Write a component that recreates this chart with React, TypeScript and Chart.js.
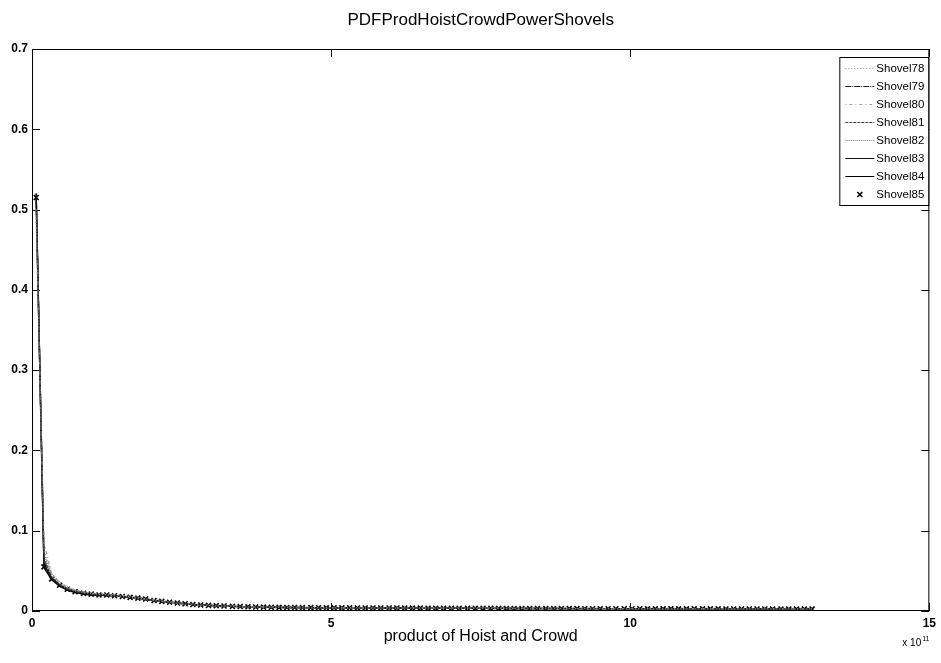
import React, { useEffect, useRef } from "react";
import { Chart, registerables } from "chart.js";

Chart.register(...registerables);

const FONT = "'Liberation Sans', Arial, sans-serif";

const TITLE = "PDFProdHoistCrowdPowerShovels";
const X_LABEL = "product of Hoist and Crowd";
const X_EXPONENT = "11";
const X_TICKS = [0, 5, 10, 15];
const Y_TICKS = [0, 0.1, 0.2, 0.3, 0.4, 0.5, 0.6, 0.7];
const SERIES_NAMES = ["Shovel78", "Shovel79", "Shovel80", "Shovel81", "Shovel82", "Shovel83", "Shovel84", "Shovel85"];

// bin centres, in units of 1e11
const BIN_X = [
  0.07, 0.2, 0.33, 0.46, 0.59, 0.72, 0.86, 0.99, 1.12, 1.25,
  1.38, 1.51, 1.64, 1.77, 1.9, 2.04, 2.17, 2.3, 2.43, 2.56,
  2.69, 2.82, 2.95, 3.08, 3.21, 3.35, 3.48, 3.61, 3.74, 3.87,
  4.0, 4.13, 4.26, 4.39, 4.52, 4.66, 4.79, 4.92, 5.05, 5.18,
  5.31, 5.44, 5.57, 5.7, 5.83, 5.97, 6.1, 6.23, 6.36, 6.49,
  6.62, 6.75, 6.88, 7.01, 7.14, 7.28, 7.41, 7.54, 7.67, 7.8,
  7.93, 8.06, 8.19, 8.32, 8.45, 8.59, 8.72, 8.85, 8.98, 9.11,
  9.24, 9.37, 9.5, 9.63, 9.76, 9.9, 10.03, 10.16, 10.29, 10.42,
  10.55, 10.68, 10.81, 10.94, 11.07, 11.21, 11.34, 11.47, 11.6, 11.73,
  11.86, 11.99, 12.12, 12.25, 12.38, 12.52, 12.65, 12.78, 12.91, 13.04,
];

const SHOVEL85 = [
  0.515, 0.055, 0.04, 0.032, 0.027, 0.024, 0.022, 0.021, 0.02, 0.02,
  0.019, 0.018, 0.017, 0.016, 0.015, 0.013, 0.012, 0.011, 0.01, 0.009,
  0.008, 0.0075, 0.007, 0.0066, 0.0062, 0.0058, 0.0055, 0.0052, 0.005, 0.0048,
  0.0046, 0.0045, 0.0044, 0.0043, 0.0042, 0.0042, 0.0041, 0.004, 0.004, 0.0039,
  0.0039, 0.0038, 0.0038, 0.0038, 0.0037, 0.0037, 0.0037, 0.0036, 0.0036, 0.0036,
  0.0035, 0.0035, 0.0035, 0.0034, 0.0034, 0.0034, 0.0033, 0.0033, 0.0033, 0.0032,
  0.0032, 0.0032, 0.0031, 0.0031, 0.0031, 0.0031, 0.003, 0.003, 0.003, 0.003,
  0.0029, 0.0029, 0.0029, 0.0029, 0.0028, 0.0028, 0.0028, 0.0028, 0.0027, 0.0027,
  0.0027, 0.0027, 0.0027, 0.0026, 0.0026, 0.0026, 0.0026, 0.0026, 0.0025, 0.0025,
  0.0025, 0.0025, 0.0025, 0.0025, 0.0024, 0.0024, 0.0024, 0.0024, 0.0024, 0.0024,
];

// x positions for the line series (units of 1e11)
const LINE_X = [
  0.07, 0.2, 0.33, 0.46, 0.59, 0.72, 0.86, 0.99, 1.12, 1.25,
  1.38, 1.51, 1.64, 1.77, 1.9, 2.04, 2.17, 2.3, 2.43, 2.56,
  2.69, 2.82, 2.95, 3.08, 3.21, 3.35, 3.61, 3.87, 4.26, 4.66,
  5.31, 6.1, 7.14, 8.32, 9.63, 10.94, 12.25, 13.04,
];

const SHOVEL78 = [
  0.5, 0.075, 0.044, 0.034, 0.028, 0.025, 0.023, 0.022, 0.021, 0.02,
  0.019, 0.018, 0.017, 0.016, 0.014, 0.013, 0.012, 0.011, 0.0095, 0.0085,
  0.0078, 0.0072, 0.0068, 0.0064, 0.006, 0.0057, 0.0052, 0.0048, 0.0044, 0.0042,
  0.004, 0.0037, 0.0034, 0.0031, 0.0029, 0.0027, 0.0026, 0.0025,
];
const SHOVEL79 = [
  0.52, 0.06, 0.041, 0.033, 0.027, 0.024, 0.022, 0.021, 0.02, 0.02,
  0.019, 0.018, 0.017, 0.016, 0.015, 0.013, 0.012, 0.011, 0.01, 0.009,
  0.008, 0.0075, 0.007, 0.0066, 0.0062, 0.0058, 0.0052, 0.0048, 0.0044, 0.0042,
  0.004, 0.0037, 0.0034, 0.0031, 0.0029, 0.0027, 0.0026, 0.0025,
];
const SHOVEL80 = [
  0.49, 0.085, 0.046, 0.035, 0.029, 0.026, 0.024, 0.022, 0.021, 0.021,
  0.02, 0.019, 0.018, 0.016, 0.015, 0.014, 0.012, 0.011, 0.01, 0.009,
  0.0082, 0.0076, 0.0071, 0.0067, 0.0063, 0.0059, 0.0053, 0.0049, 0.0045, 0.0043,
  0.0041, 0.0038, 0.0035, 0.0032, 0.003, 0.0028, 0.0026, 0.0025,
];
const SHOVEL81 = [
  0.51, 0.065, 0.042, 0.033, 0.028, 0.025, 0.023, 0.021, 0.02, 0.02,
  0.019, 0.018, 0.017, 0.016, 0.015, 0.013, 0.012, 0.011, 0.01, 0.009,
  0.008, 0.0075, 0.007, 0.0066, 0.0062, 0.0058, 0.0052, 0.0048, 0.0044, 0.0042,
  0.004, 0.0037, 0.0034, 0.0031, 0.0029, 0.0027, 0.0026, 0.0025,
];
const SHOVEL82 = [
  0.5, 0.07, 0.046, 0.036, 0.03, 0.026, 0.023, 0.022, 0.021, 0.02,
  0.02, 0.019, 0.018, 0.017, 0.015, 0.014, 0.013, 0.011, 0.01, 0.0092,
  0.0084, 0.0077, 0.0072, 0.0067, 0.0063, 0.0059, 0.0053, 0.0049, 0.0045, 0.0043,
  0.0041, 0.0038, 0.0035, 0.0032, 0.003, 0.0028, 0.0026, 0.0025,
];
const SHOVEL83 = [
  0.52, 0.058, 0.04, 0.032, 0.027, 0.024, 0.022, 0.021, 0.02, 0.02,
  0.019, 0.018, 0.017, 0.016, 0.015, 0.013, 0.012, 0.011, 0.01, 0.009,
  0.008, 0.0075, 0.007, 0.0066, 0.0062, 0.0058, 0.0052, 0.0048, 0.0044, 0.0042,
  0.004, 0.0037, 0.0034, 0.0031, 0.0029, 0.0027, 0.0026, 0.0025,
];
const SHOVEL84 = [
  0.515, 0.054, 0.039, 0.031, 0.026, 0.023, 0.021, 0.02, 0.02, 0.019,
  0.019, 0.018, 0.017, 0.016, 0.014, 0.013, 0.012, 0.011, 0.0098, 0.0088,
  0.0079, 0.0074, 0.0069, 0.0065, 0.0061, 0.0057, 0.0051, 0.0047, 0.0043, 0.0041,
  0.0039, 0.0036, 0.0033, 0.0031, 0.0029, 0.0027, 0.0026, 0.0025,
];

const LINE_SERIES = [SHOVEL78, SHOVEL79, SHOVEL80, SHOVEL81, SHOVEL82, SHOVEL83, SHOVEL84];
const LINE_STYLES = [
  { color: "#8a8a8a", dash: [1, 2] },
  { color: "#1a1a1a", dash: [6, 1, 1, 1] },
  { color: "#a0a0a0", dash: [1, 3, 3, 3] },
  { color: "#404040", dash: [3, 1] },
  { color: "#777777", dash: [1, 1] },
  { color: "#111111", dash: [] },
  { color: "#000000", dash: [] },
];

const decorPlugin = {
  id: "decor",
  beforeDatasetsDraw(chart: any) {
    const { ctx, chartArea: a, scales } = chart;
    const xs = scales.x;
    const ys = scales.y;
    const tl = 8;
    ctx.save();
    ctx.strokeStyle = "#000";
    ctx.lineWidth = 1;
    ctx.strokeRect(a.left + 0.5, a.top + 0.5, a.right - a.left - 1, a.bottom - a.top - 1);
    ctx.beginPath();
    X_TICKS.forEach((v) => {
      const px = Math.round(xs.getPixelForValue(v)) + 0.5;
      ctx.moveTo(px, a.bottom);
      ctx.lineTo(px, a.bottom - tl);
      ctx.moveTo(px, a.top);
      ctx.lineTo(px, a.top + tl);
    });
    Y_TICKS.forEach((v) => {
      const py = Math.round(ys.getPixelForValue(v)) + 0.5;
      ctx.moveTo(a.left, py);
      ctx.lineTo(a.left + tl, py);
      ctx.moveTo(a.right, py);
      ctx.lineTo(a.right - tl, py);
    });
    ctx.stroke();
    // exponent label
    ctx.fillStyle = "#000";
    ctx.textBaseline = "alphabetic";
    ctx.textAlign = "left";
    ctx.font = `10px ${FONT}`;
    const ex = a.right - 27;
    const ey = a.bottom + 35;
    ctx.fillText("x 10", ex, ey);
    const w = ctx.measureText("x 10").width;
    ctx.font = `7px ${FONT}`;
    ctx.fillText(X_EXPONENT, ex + w + 1, ey - 5);
    ctx.restore();
  },
  afterDatasetsDraw(chart: any) {
    const { ctx, chartArea: a } = chart;
    const ds = chart.data.datasets;
    const boxW = 89;
    const rowH = 18;
    const right = a.right - 1;
    const left = right - boxW;
    const top = a.top + 8;
    const boxH = rowH * ds.length + 4;
    ctx.save();
    ctx.fillStyle = "#fff";
    ctx.fillRect(left, top, boxW, boxH);
    ctx.strokeStyle = "#000";
    ctx.lineWidth = 1;
    ctx.strokeRect(left + 0.5, top + 0.5, boxW, boxH);
    ds.forEach((d: any, i: number) => {
      const y = Math.round(top + 11 + rowH * i) + 0.5;
      const x0 = left + 6;
      const x1 = left + 35;
      if (d.showLine === false) {
        const cx = (x0 + x1) / 2;
        ctx.strokeStyle = "#000";
        ctx.lineWidth = 1.5;
        ctx.setLineDash([]);
        ctx.beginPath();
        ctx.moveTo(cx - 2.5, y - 2.5);
        ctx.lineTo(cx + 2.5, y + 2.5);
        ctx.moveTo(cx + 2.5, y - 2.5);
        ctx.lineTo(cx - 2.5, y + 2.5);
        ctx.stroke();
      } else {
        ctx.strokeStyle = d.borderColor;
        ctx.lineWidth = 1;
        ctx.setLineDash(d.borderDash || []);
        ctx.beginPath();
        ctx.moveTo(x0, y);
        ctx.lineTo(x1, y);
        ctx.stroke();
      }
      ctx.setLineDash([]);
      ctx.fillStyle = "#000";
      ctx.font = `11.5px ${FONT}`;
      ctx.textAlign = "left";
      ctx.textBaseline = "middle";
      ctx.fillText(d.label, x1 + 2, y);
    });
    ctx.restore();
  },
};

export default function App() {
  const ref = useRef<HTMLCanvasElement | null>(null);

  useEffect(() => {
    document.body.style.margin = "0";
    const canvas = ref.current;
    if (!canvas) return;

    const lineDatasets = LINE_SERIES.map((vals, i) => ({
      label: SERIES_NAMES[i],
      data: vals.map((v, j) => ({ x: LINE_X[j], y: v })),
      showLine: true,
      borderColor: LINE_STYLES[i].color,
      borderDash: LINE_STYLES[i].dash,
      borderWidth: 1.4,
      pointRadius: 0,
      fill: false,
      tension: 0,
    }));

    const markerDataset = {
      label: SERIES_NAMES[7],
      data: SHOVEL85.map((v, j) => ({ x: BIN_X[j], y: v })),
      showLine: false,
      pointStyle: "crossRot",
      pointRadius: 3.5,
      borderColor: "#000",
      backgroundColor: "#000",
      pointBorderWidth: 1.6,
    };

    const chart = new Chart(canvas, {
      type: "scatter",
      data: { datasets: [...lineDatasets, markerDataset] as any },
      options: {
        responsive: false,
        animation: false,
        layout: { padding: { left: 0, right: 9, top: 0, bottom: 0 } },
        plugins: {
          legend: { display: false },
          tooltip: { enabled: false },
          title: {
            display: true,
            text: TITLE,
            fullSize: false,
            color: "#000",
            font: { family: FONT, size: 17, weight: "normal" },
            padding: { top: 9.8, bottom: 18.8 },
          },
        },
        scales: {
          x: {
            type: "linear",
            min: 0,
            max: 15,
            afterFit: (s: any) => { s.height = 52; },
            afterBuildTicks: (s: any) => { s.ticks = X_TICKS.map((v) => ({ value: v })); },
            grid: { display: false, drawTicks: false },
            border: { display: false },
            ticks: {
              padding: 5,
              color: "#000",
              font: { family: FONT, size: 12, weight: "bold" },
              maxRotation: 0,
            },
            title: {
              display: true,
              text: X_LABEL,
              color: "#000",
              font: { family: FONT, size: 16, weight: "normal" },
              padding: { top: 0, bottom: 17 },
            },
          },
          y: {
            type: "linear",
            min: 0,
            max: 0.7,
            afterFit: (s: any) => { s.width = 32; },
            afterBuildTicks: (s: any) => { s.ticks = Y_TICKS.map((v) => ({ value: v })); },
            grid: { display: false, drawTicks: false },
            border: { display: false },
            ticks: {
              padding: 4,
              color: "#000",
              font: { family: FONT, size: 12, weight: "bold" },
              callback: (v: any) => String(Math.round(Number(v) * 10) / 10),
            },
          },
        },
      },
      plugins: [decorPlugin],
    });

    return () => chart.destroy();
  }, []);

  return <canvas ref={ref} width={941} height={663} style={{ display: "block" }} />;
}
